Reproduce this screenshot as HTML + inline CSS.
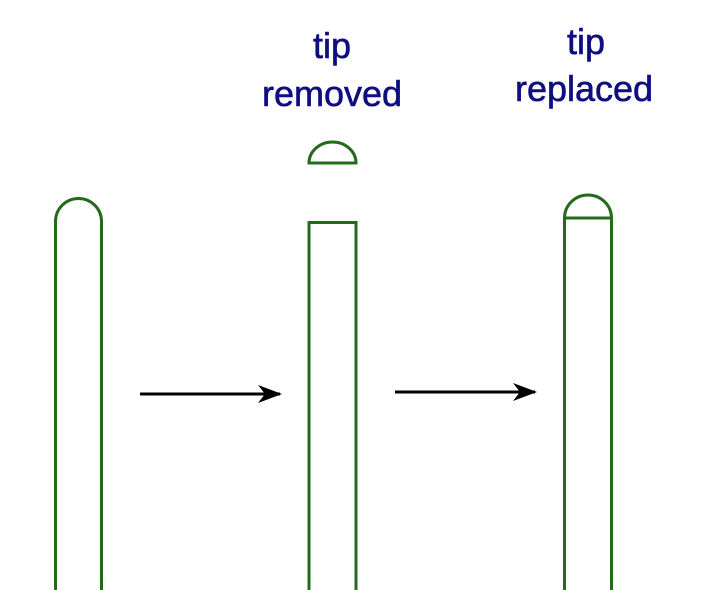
<!DOCTYPE html>
<html><head><meta charset="utf-8"><style>
html,body{margin:0;padding:0;background:#fff;}
svg{display:block}
text{font-family:"Liberation Sans",Arial,sans-serif;font-size:36px;fill:#0e0e80;stroke:#0e0e80;stroke-width:0.6;text-anchor:middle}
</style></head><body>
<svg width="721" height="590" viewBox="0 0 721 590" xmlns="http://www.w3.org/2000/svg">
<defs>
<marker id="ah" markerWidth="24" markerHeight="18" refX="22" refY="9" orient="auto" markerUnits="userSpaceOnUse">
<path d="M0,0 L24,9 L0,18 L7,9 Z" fill="#000"/>
</marker>
</defs>
<g fill="none" stroke="#236b1a" stroke-width="3">
<path d="M55.5,590 V221.5 A23,23 0 0 1 101.5,221.5 V590"/>
<path d="M309,590 V222.5 H356 V590"/>
<path d="M309,163 A23.5,21 0 0 1 356,163 Z"/>
<path d="M564.5,590 V218 A23.5,23 0 0 1 611.5,218 V590"/>
<line x1="564.5" y1="218" x2="611.5" y2="218"/>
</g>
<g stroke="#000" stroke-width="3">
<line x1="140" y1="394" x2="280" y2="394" marker-end="url(#ah)"/>
<line x1="395" y1="392" x2="535" y2="392" marker-end="url(#ah)"/>
</g>
<text x="332" y="58">tip</text>
<text x="332" y="106">removed</text>
<text x="586" y="54">tip</text>
<text x="584" y="101">replaced</text>
</svg>
</body></html>
